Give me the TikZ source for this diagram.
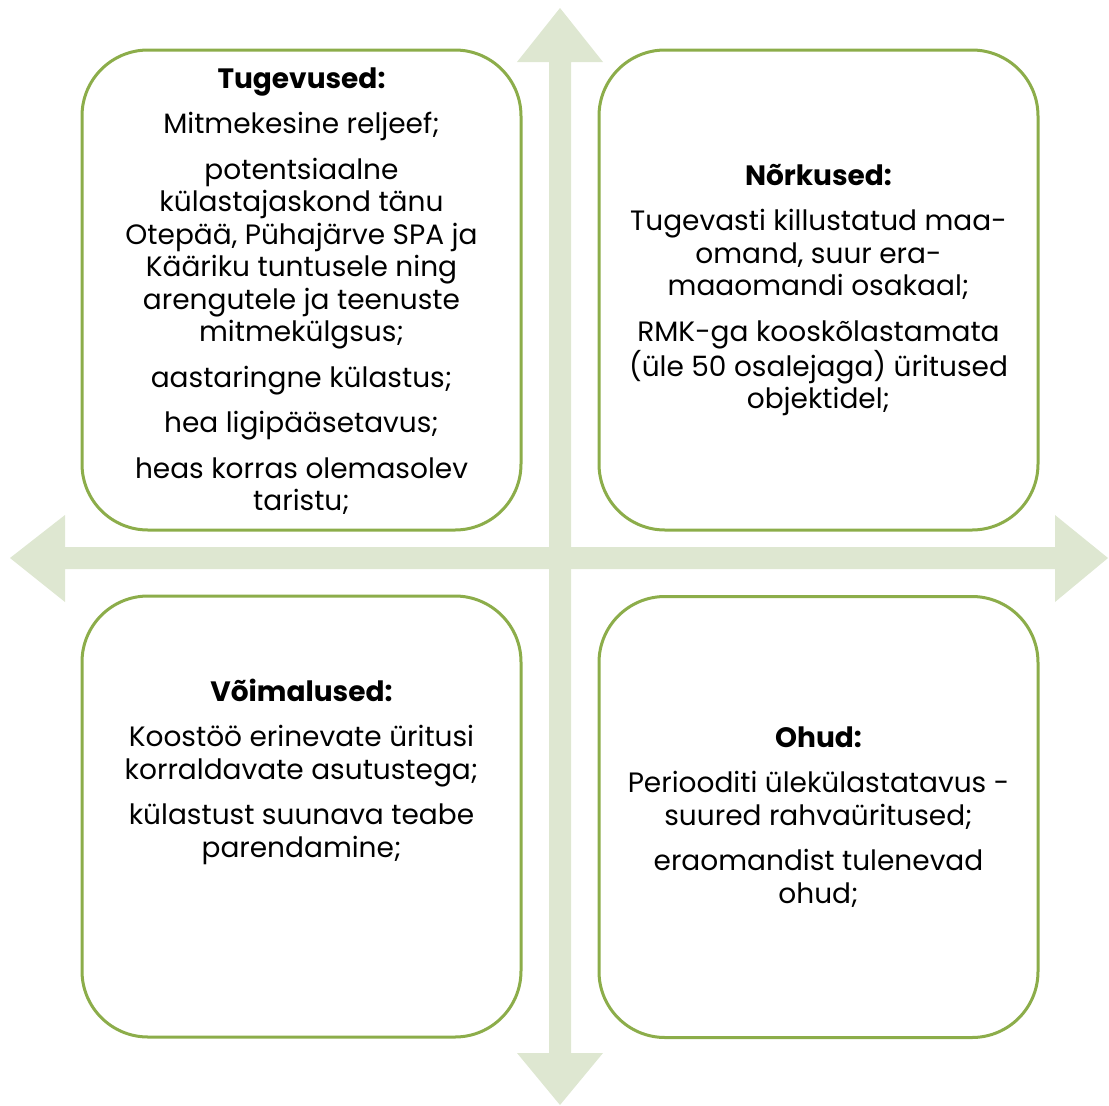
\documentclass[tikz,border=0pt]{standalone}
\usepackage{fontspec}
\setmainfont{Poppins}
\definecolor{crossgreen}{RGB}{222,231,209}
\definecolor{boxgreen}{RGB}{140,173,74}
\tikzset{
  swotbox/.style={draw=boxgreen,line width=3pt,fill=white,rounded corners=66pt,
    minimum width=439pt,inner sep=0pt},
  swottext/.style={align=center,inner sep=0pt,
    font=\fontsize{28}{32.5}\selectfont}
}

\begin{document}
\begin{tikzpicture}[x=1pt,y=-1pt]
			\useasboundingbox (0,0) rectangle (1109,1106);
			
			\fill[crossgreen] (549,62) -- (517,62) -- (560,8) -- (603,62) -- (571,62)
				-- (571,1053) -- (603,1053) -- (560,1105) -- (517,1053) -- (549,1053) -- cycle;
			\fill[crossgreen] (65,547) -- (65,515) -- (10,558) -- (65,602) -- (65,569)
				-- (1055,569) -- (1055,602) -- (1108,558) -- (1055,515) -- (1055,547) -- cycle;
			
			\node[swotbox,minimum height=480pt] (tug) at (301.5,290) {};
			\node[swotbox,minimum height=480pt] (nor) at (818.5,290) {};
			\node[swotbox,minimum height=441pt] (voi) at (301.5,816.5) {};
			\node[swotbox,minimum height=441pt] (ohu) at (818.5,817) {};
			
			\node[swottext] (tugtxt) at ([yshift=-1pt]tug.center) {\textbf{Tugevused:}\\[13pt]
				Mitmekesine reljeef;\\[13pt]
				potentsiaalne\\ külastajaskond tänu\\ Otepää, Pühajärve SPA ja\\
				Kääriku tuntusele ning\\ arengutele ja teenuste\\ mitmekülgsus;\\[13pt]
				aastaringne külastus;\\[13pt]
				hea ligipääsetavus;\\[13pt]
				heas korras olemasolev\\ taristu;};
			\node[swottext] (nortxt) at (nor) {\textbf{Nõrkused:}\\[13pt]
				Tugevasti killustatud maa-\\ omand, suur era-\\ maaomandi osakaal;\\[13pt]
				RMK-ga kooskõlastamata\\ (üle 50 osalejaga) üritused\\ objektidel;};
			\node[swottext] (voitxt) at ([yshift=45pt]voi.center) {\textbf{Võimalused:}\\[13pt]
				Koostöö erinevate üritusi\\ korraldavate asutustega;\\[13pt]
				külastust suunava teabe\\ parendamine;};
			\node[swottext] (ohutxt) at (ohu) {\textbf{Ohud:}\\[13pt]
				Periooditi ülekülastatavus -\\ suured rahvaüritused;\\[13pt]
				eraomandist tulenevad\\ ohud;};
		\end{tikzpicture}
\end{document}
